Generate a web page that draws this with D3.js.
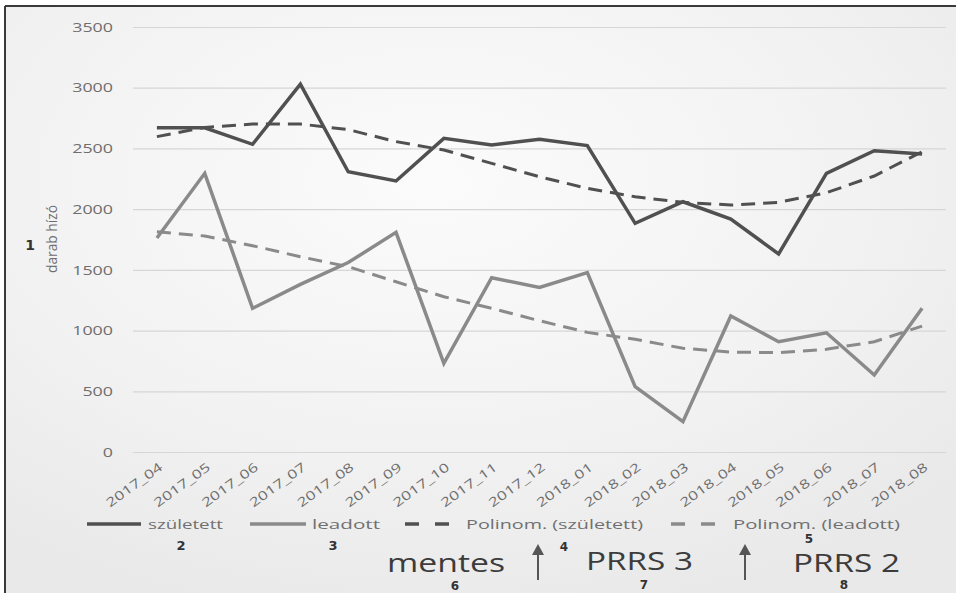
<!DOCTYPE html>
<html><head><meta charset="utf-8">
<script src="https://cdn.jsdelivr.net/npm/d3@7/dist/d3.min.js"></script>
<style>html,body{margin:0;padding:0;background:#fff;}svg{display:block;}</style>
</head><body>
<svg id="chart" width="956" height="593"></svg>
<script>
const categories = ["2017_04","2017_05","2017_06","2017_07","2017_08","2017_09","2017_10","2017_11","2017_12","2018_01","2018_02","2018_03","2018_04","2018_05","2018_06","2018_07","2018_08"];
const szuletett = [2670,2670,2534,3030,2308,2232,2583,2528,2575,2523,1883,2061,1919,1631,2295,2481,2454];
const leadott = [1762,2295,1183,1380,1560,1809,730,1435,1356,1477,538,250,1120,908,982,634,1183];
const polSzuletett = [2597,2673,2701,2701,2655,2556,2487,2377,2267,2171,2102,2056,2034,2056,2135,2273,2473];
const polLeadott = [1814,1779,1699,1608,1526,1402,1279,1183,1081,985,928,854,823,818,846,908,1037];
const yTicks = [0,500,1000,1500,2000,2500,3000,3500];
const legendLabels = ["született","leadott","Polinom. (született)","Polinom. (leadott)"];
const yAxisTitle = "darab hízó";

const svg = d3.select("#chart");
const defs = svg.append("defs");
const grad = defs.append("radialGradient").attr("id","bg").attr("cx","0.45").attr("cy","0.3").attr("r","0.75");
grad.append("stop").attr("offset","0").attr("stop-color","#fbfbfb");
grad.append("stop").attr("offset","0.6").attr("stop-color","#f2f2f2");
grad.append("stop").attr("offset","1").attr("stop-color","#e9e9e9");

svg.append("rect").attr("x",5).attr("y",6).attr("width",951).attr("height",587).attr("fill","url(#bg)");
svg.append("line").attr("x1",5).attr("x2",956).attr("y1",6).attr("y2",6).attr("stroke","#3a3a3a").attr("stroke-width",2);
svg.append("line").attr("x1",5).attr("x2",5).attr("y1",6).attr("y2",593).attr("stroke","#3a3a3a").attr("stroke-width",2);

const x = d3.scalePoint().domain(categories).range([133,946]).padding(0.5);
const y = d3.scaleLinear().domain([0,3500]).range([452,27]);
const font = "'Open Sans', Lato, sans-serif";

// y axis with gridlines
const ya = svg.append("g").attr("transform","translate(133,0)")
  .call(d3.axisLeft(y).tickValues(yTicks).tickSize(-813).tickPadding(20).tickFormat(d3.format("d")));
ya.select(".domain").remove();
ya.selectAll(".tick line").attr("stroke","#d6d6d6").attr("stroke-width",1.2);
ya.selectAll(".tick text").attr("fill","#6e6e6e").style("font-family",font).style("font-size","13px")
  .attr("textLength",d=>String(d).length*10.2).attr("lengthAdjust","spacingAndGlyphs");

// x axis
const xa = svg.append("g").attr("transform","translate(0,452)")
  .call(d3.axisBottom(x).tickSize(0).tickPadding(0));
xa.select(".domain").remove();
xa.selectAll(".tick text")
  .attr("fill","#6e6e6e").style("font-family",font).style("font-size","12.5px")
  .attr("textLength",66).attr("lengthAdjust","spacingAndGlyphs")
  .attr("text-anchor","end").attr("dy","0").attr("y",0)
  .attr("transform","translate(6,17) rotate(-36)");

const line = d3.line().x((d,i)=>x(categories[i])).y(d=>y(d));

svg.append("path").datum(polLeadott).attr("d",line).attr("fill","none").attr("stroke","#8a8a8a").attr("stroke-width",3).attr("stroke-dasharray","14,8");
svg.append("path").datum(polSzuletett).attr("d",line).attr("fill","none").attr("stroke","#505050").attr("stroke-width",3).attr("stroke-dasharray","14,8");
svg.append("path").datum(leadott).attr("d",line).attr("fill","none").attr("stroke","#8a8a8a").attr("stroke-width",3.5).attr("stroke-linejoin","miter");
svg.append("path").datum(szuletett).attr("d",line).attr("fill","none").attr("stroke","#505050").attr("stroke-width",3.5).attr("stroke-linejoin","miter");

// y title
svg.append("text").attr("transform","translate(57,239) rotate(-90)").attr("text-anchor","middle")
  .attr("fill","#6e6e6e").style("font-family",font).style("font-size","14px")
  .attr("textLength",68).attr("lengthAdjust","spacingAndGlyphs").text(yAxisTitle);
svg.append("text").attr("x",30).attr("y",250).attr("text-anchor","middle").attr("fill","#333")
  .style("font-family","'DejaVu Sans', sans-serif").style("font-weight","bold").style("font-size","14px").text("1");

// legend
const legend = [
  {x1:87,x2:141,tx:148,tw:75,color:"#505050",dash:null,label:legendLabels[0]},
  {x1:250,x2:306,tx:312,tw:68,color:"#8a8a8a",dash:null,label:legendLabels[1]},
  {x1:405,x2:460,tx:466,tw:177,color:"#505050",dash:"14,16",label:legendLabels[2]},
  {x1:671,x2:726,tx:733,tw:167,color:"#8a8a8a",dash:"14,16",label:legendLabels[3]}
];
const lg = svg.append("g");
legend.forEach(l=>{
  lg.append("line").attr("x1",l.x1).attr("x2",l.x2).attr("y1",524).attr("y2",524)
    .attr("stroke",l.color).attr("stroke-width",3.5).attr("stroke-dasharray",l.dash);
  lg.append("text").attr("x",l.tx).attr("y",528.5).attr("fill","#707070")
    .style("font-family",font).style("font-size","12.5px")
    .attr("textLength",l.tw).attr("lengthAdjust","spacingAndGlyphs").text(l.label);
});

// annotation numbers
const nums = [["2",181,550,13],["3",333,550,13],["4",564,551,12],["5",809,543,12],["6",455,590,12],["7",644,589,12],["8",844,589,12]];
nums.forEach(n=>svg.append("text").attr("x",n[1]).attr("y",n[2]).attr("text-anchor","middle").attr("fill","#333")
  .style("font-family","'DejaVu Sans', sans-serif").style("font-weight","bold").style("font-size",n[3]+"px").text(n[0]));

// big labels
const big = [["mentes",387,118,572],["PRRS 3",586,107,570],["PRRS 2",793,107,572]];
big.forEach(b=>svg.append("text").attr("x",b[1]).attr("y",b[3]).attr("fill","#3c3c3c")
  .style("font-family",font).style("font-size","25px")
  .attr("textLength",b[2]).attr("lengthAdjust","spacingAndGlyphs").text(b[0]));

// arrows
[538,745].forEach(ax=>{
  svg.append("line").attr("x1",ax).attr("x2",ax).attr("y1",550).attr("y2",580).attr("stroke","#555").attr("stroke-width",2);
  svg.append("path").attr("d",`M${ax-6},555 L${ax},544 L${ax+6},555 Z`).attr("fill","#555");
});
</script>
</body></html>
